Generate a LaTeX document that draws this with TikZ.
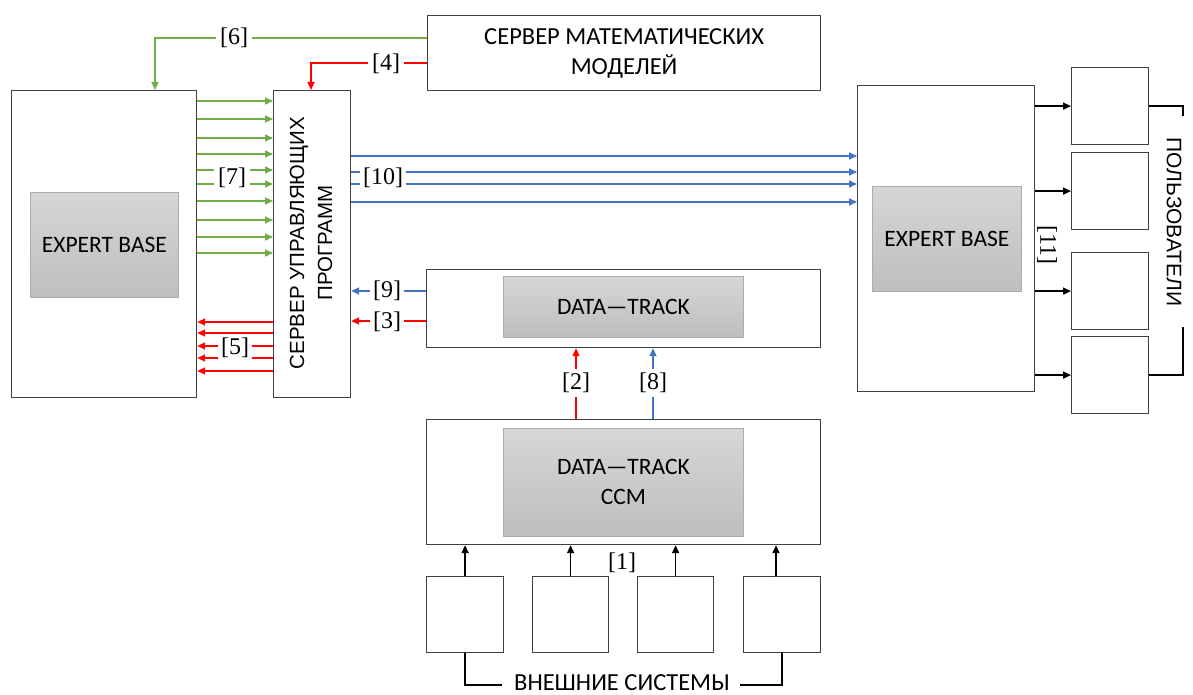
\documentclass[tikz,border=0pt]{standalone}
\usepackage{fontspec}
\setmainfont{Carlito}
\newfontfamily\arialf{Liberation Sans}
\newfontfamily\numf{Liberation Serif}
\usetikzlibrary{arrows.meta}

\definecolor{gline}{RGB}{112,173,71}
\definecolor{rline}{RGB}{255,0,0}
\definecolor{bline}{RGB}{68,114,196}
\definecolor{bord}{RGB}{64,64,64}
\definecolor{shtop}{RGB}{214,214,214}
\definecolor{shbot}{RGB}{190,190,190}
\definecolor{shbord}{RGB}{172,172,172}

\begin{document}
\begin{tikzpicture}[x=1pt,y=-1pt,
  box/.style={draw=bord, line width=1.2pt, fill=white, anchor=north west, inner sep=0pt},
  inbox/.style={draw=shbord, line width=0.8pt, top color=shtop, bottom color=shbot,
    anchor=north west, inner sep=0pt},
  lbl/.style={font=\fontsize{23.5}{30}\selectfont, align=center},
  vlbl/.style={font=\arialf\fontsize{20.5}{28}\selectfont, align=center},
  num/.style={font=\numf\fontsize{24}{24}\selectfont, fill=white, inner sep=4pt},
  tip/.style={-{Triangle[length=8pt,width=7pt]}},
  garrow/.style={tip, draw=gline, line width=1.6pt},
  rarrow/.style={tip, draw=rline, line width=1.6pt},
  barrow/.style={tip, draw=bline, line width=1.6pt},
  karrow/.style={tip, draw=black, line width=1.6pt},
  kline/.style={draw=black, line width=1.6pt}]

\useasboundingbox (0,0) rectangle (1193,695);

% left expert base
\node[box, minimum width=185pt, minimum height=307pt] (lb) at (11,90) {};
\node[inbox, minimum width=148pt, minimum height=105pt] (lbi) at (30,192) {};
\node[lbl] at (lbi.center) {EXPERT BASE};

% control program server
\node[box, minimum width=77pt, minimum height=307pt] (srv) at (273,90) {};
\node[vlbl, rotate=90] at (311,243) {СЕРВЕР УПРАВЛЯЮЩИХ\\ПРОГРАММ};

% math model server
\node[box, minimum width=393pt, minimum height=75pt] (msrv) at (427,15) {};
\node[lbl, font=\fontsize{24.5}{30}\selectfont] at (msrv.center) {СЕРВЕР МАТЕМАТИЧЕСКИХ\\МОДЕЛЕЙ};

% right expert base
\node[box, minimum width=177pt, minimum height=306pt] (rb) at (857,85) {};
\node[inbox, minimum width=149pt, minimum height=105pt] (rbi) at (872,186) {};
\node[lbl] at (rbi.center) {EXPERT BASE};

% users
\node[box, minimum width=77pt, minimum height=77pt] (u1) at (1071,67) {};
\node[box, minimum width=77pt, minimum height=77pt] (u2) at (1071,152) {};
\node[box, minimum width=77pt, minimum height=77pt] (u3) at (1071,252) {};
\node[box, minimum width=77pt, minimum height=77pt] (u4) at (1071,336) {};

% data-track
\node[box, minimum width=394pt, minimum height=78pt] (dt) at (426,269) {};
\node[inbox, minimum width=240pt, minimum height=61pt] (dti) at (503,276) {};
\node[lbl] at (dti.center) {DATA—TRACK};

% data-track ccm
\node[box, minimum width=394pt, minimum height=125pt] (ccm) at (426,419) {};
\node[inbox, minimum width=240pt, minimum height=108pt] (ccmi) at (503,428) {};
\node[lbl] at (ccmi.center) {DATA—TRACK\\CCM};

% external systems
\node[box, minimum width=77pt, minimum height=76pt] (e1) at (426,576) {};
\node[box, minimum width=76pt, minimum height=76pt] (e2) at (532,576) {};
\node[box, minimum width=76pt, minimum height=76pt] (e3) at (637,576) {};
\node[box, minimum width=77pt, minimum height=76pt] (e4) at (743,576) {};

% links from the math model server
\draw[garrow] (msrv.west |- 0,38) -| (lb.north -| 155,0);
\draw[rarrow] (msrv.west |- 0,63) -| (srv.north -| 311,0);
\node[num] (n6) at (234,38) {[6]};
\node[num] (n4) at (386,64) {[4]};

% expert base -> server
\foreach \yy in {101,119,138,154,170,184,201,220,237,253}
  \draw[garrow] (lb.east |- 0,\yy) -- (srv.west |- 0,\yy);
\node[num] (n7) at (232,178) {[7]};

% server -> expert base
\foreach \yy in {322,333,346,358,371}
  \draw[rarrow] (srv.west |- 0,\yy) -- (lb.east |- 0,\yy);
\node[num, inner sep=3pt] (n5) at (235,348) {[5]};

% server -> right expert base
\foreach \yy in {156,172,184,202}
  \draw[barrow] (srv.east |- 0,\yy) -- (rb.west |- 0,\yy);
\node[num, inner sep=3pt] (n10) at (383,178) {[10]};

% data-track -> server
\draw[barrow] (dt.west |- 0,291) -- (srv.east |- 0,291);
\draw[rarrow] (dt.west |- 0,321) -- (srv.east |- 0,321);
\node[num, inner sep=3pt] (n9) at (387,291) {[9]};
\node[num, inner sep=3pt] (n3) at (387,322) {[3]};

% ccm -> data-track
\draw[rarrow] (ccm.north -| 576,0) -- (dt.south -| 576,0);
\draw[barrow] (ccm.north -| 653,0) -- (dt.south -| 653,0);
\node[num] (n2) at (576,383) {[2]};
\node[num] (n8) at (653,383) {[8]};

% right expert base -> users
\foreach \u in {u1,u2,u3,u4}
  \draw[karrow] (rb.east |- \u.west) -- (\u.west);
\node[num, fill=none, rotate=-90] (n11) at (1047,245) {[11]};
\coordinate (ut) at (1183,116);
\coordinate (ub) at (1183,327);
\draw[kline] (u1.east) -| (ut);
\draw[kline] (u4.east) -| (ub);
\node[font=\arialf\fontsize{21}{21}\selectfont, rotate=-90] (usr) at (1174,222) {ПОЛЬЗОВАТЕЛИ};

% external systems -> ccm
\draw[karrow] (e1.north) -- (ccm.south -| e1.north);
\draw[karrow] (e2.north) -- (ccm.south -| e2.north);
\draw[karrow] (e3.north) -- (ccm.south -| e3.north);
\draw[karrow] (e4.north -| 776,0) -- (ccm.south -| 776,0);
\node[num, fill=none] (n1) at (622,563) {[1]};
\coordinate (bl) at (502,685);
\coordinate (br) at (740,685);
\draw[kline] (e1.south) |- (bl);
\draw[kline] (e4.south) |- (br);
\node[lbl, font=\fontsize{24.5}{30}\selectfont] (ext) at (622,683) {ВНЕШНИЕ СИСТЕМЫ};
\end{tikzpicture}
\end{document}
